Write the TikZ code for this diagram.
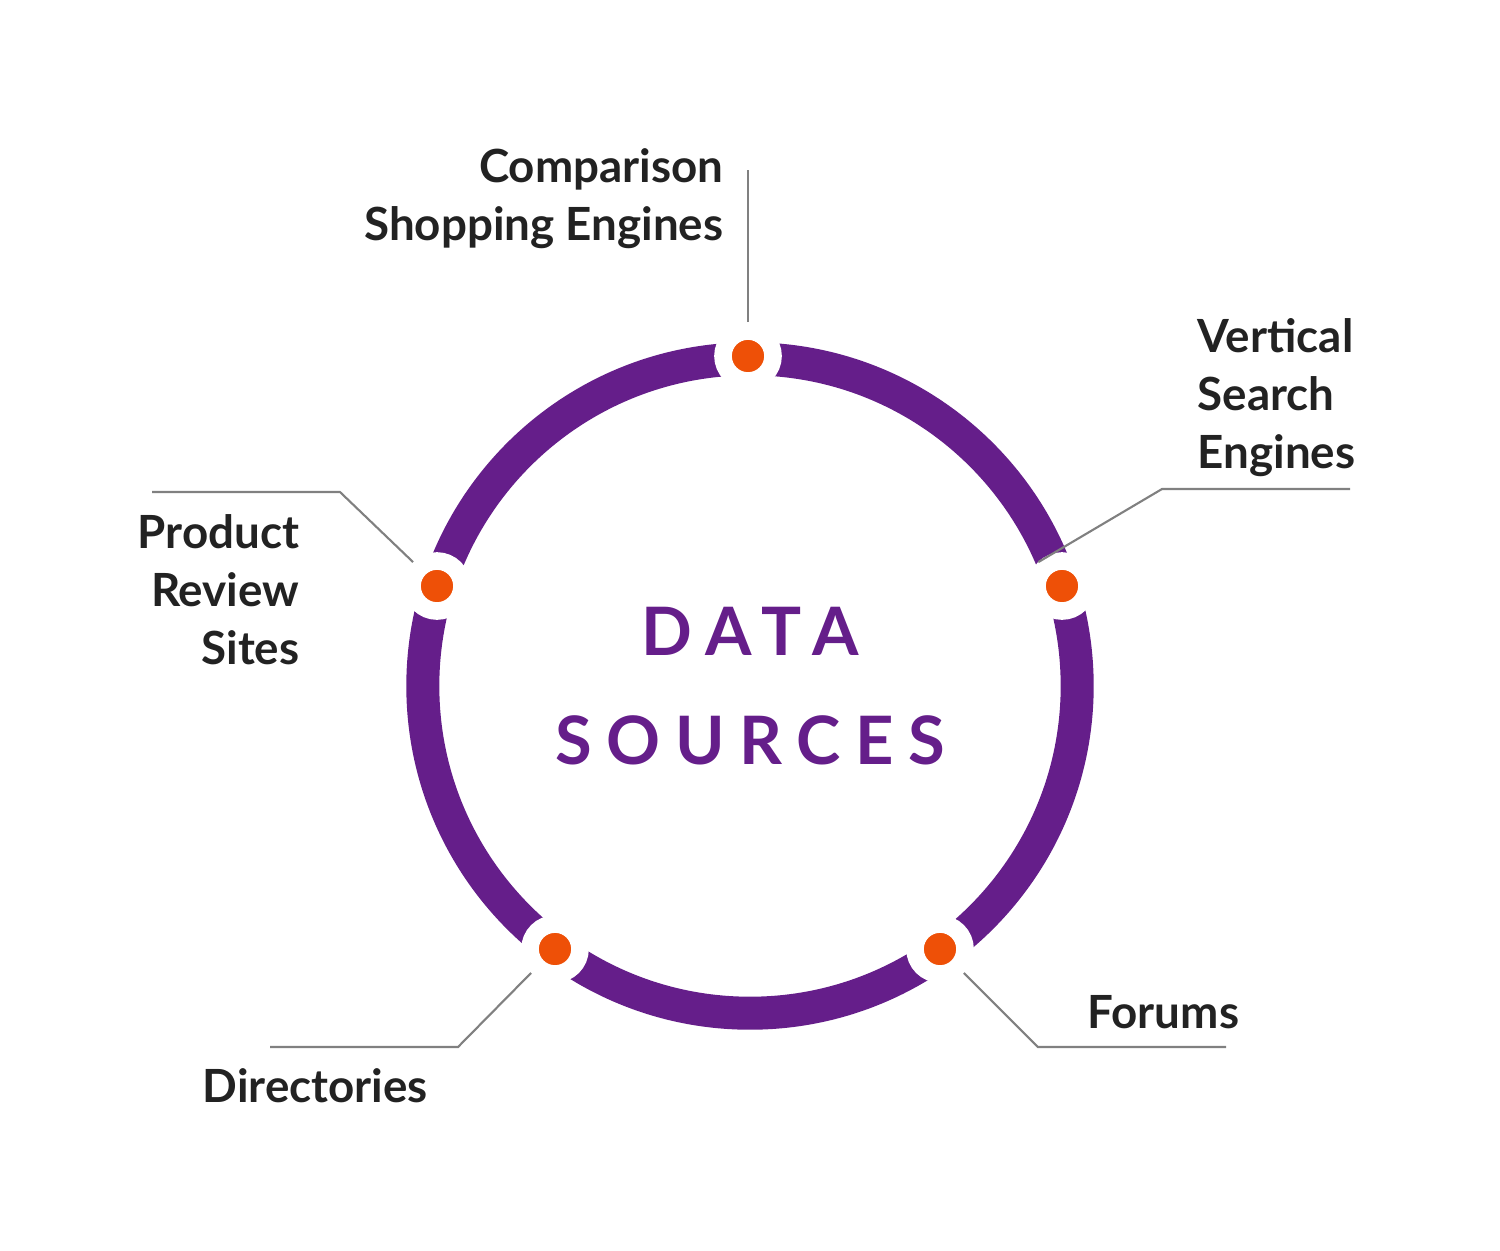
\documentclass[tikz,border=0pt]{standalone}
\usepackage{fontspec}
\setmainfont{Lato}
\definecolor{ringpurple}{HTML}{651E8A}
\definecolor{dotorange}{HTML}{EE5007}
\definecolor{labelgray}{HTML}{222222}
\tikzset{
  srclabel/.style={font=\fontsize{13pt}{16.4pt}\selectfont\bfseries, text=labelgray, inner sep=0pt},
  leader/.style={draw=gray, line width=0.6pt},
  srcdot/.style={circle, fill=dotorange, draw=white, line width=5pt, minimum size=0.5cm, inner sep=0pt}
}
\begin{document}
\begin{tikzpicture}[x=0.01cm,y=-0.01cm]
  \useasboundingbox (0,0) rectangle (1500,1250);
  % ring
  \coordinate (centre) at (750,686);
  \draw[ringpurple, line width=0.33cm] (centre) circle (3.27cm);
  \node[font=\fontsize{19pt}{31pt}\selectfont\bfseries\addfontfeatures{LetterSpace=22}, text=ringpurple, align=center] (title) at (750,686) {DATA\\SOURCES};
  % dots
  \node[srcdot] (cse) at (748,356) {};
  \node[srcdot] (vse) at (1062,586) {};
  \node[srcdot] (frm) at (940,949) {};
  \node[srcdot] (dir) at (555,949) {};
  \node[srcdot] (prs) at (437,586) {};
  % labels
  \node[srclabel, anchor=north east, align=right] (cselabel) at (724,148) {Comparison\\Shopping Engines};
  \node[srclabel, anchor=north west, align=left] (vselabel) at (1197,318) {Vertical\\Search\\Engines};
  \node[srclabel, anchor=north east, align=right] (prslabel) at (300,514) {Product\\Review\\Sites};
  \node[srclabel, anchor=west] (frmlabel) at (1087,1012) {Forums};
  \node[srclabel, anchor=west] (dirlabel) at (202,1086) {Directories};
  % leaders
  \coordinate (cseend) at (748,170);
  \draw[leader] (cse.north) -- (cseend);
  \coordinate (vsebend) at (1162,489);
  \coordinate (vseend) at (1350,489);
  \draw[leader] (vse.north west) ++(0.2,0) -- (vsebend) -- (vseend);
  \coordinate (frmbend) at (1038,1047);
  \coordinate (frmend) at (1226,1047);
  \draw[leader] (frm.south east) -- (frmbend) -- (frmend);
  \coordinate (dirbend) at (458,1047);
  \coordinate (dirend) at (270,1047);
  \draw[leader] (dir.south west) -- (dirbend) -- (dirend);
  \coordinate (prsbend) at (340,492);
  \coordinate (prsend) at (152,492);
  \draw[leader] (prs.north west) -- (prsbend) -- (prsend);
\end{tikzpicture}
\end{document}
